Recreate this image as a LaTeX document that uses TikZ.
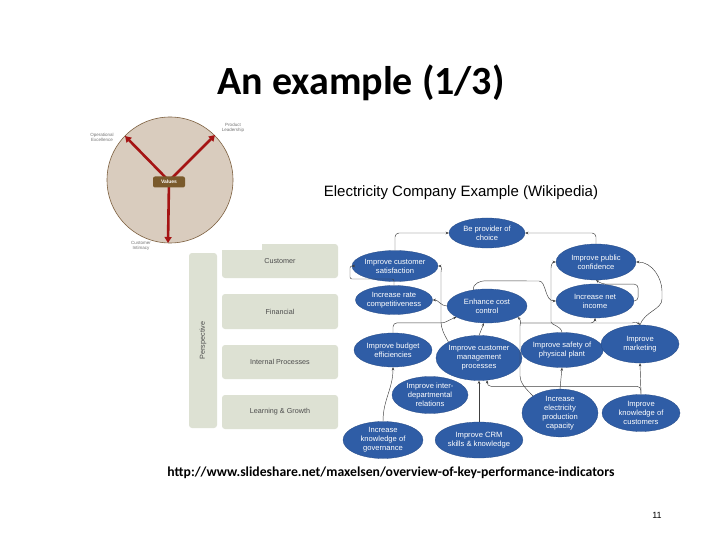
\documentclass[tikz,border=0pt]{standalone}
\usepackage{fontspec}
\setmainfont{Carlito}
\newfontfamily\arialf{Liberation Sans}
\usetikzlibrary{shapes.geometric,arrows.meta,calc}
\definecolor{mapblue}{RGB}{47,93,166}
\definecolor{sage}{RGB}{221,225,211}
\definecolor{tanfill}{RGB}{217,204,190}
\definecolor{brownb}{RGB}{125,96,64}
\definecolor{valbrown}{RGB}{122,90,44}
\definecolor{redarr}{RGB}{165,20,20}
\begin{document}
\begin{tikzpicture}[x=1pt,y=-1pt,
  goal/.style={ellipse, fill=mapblue, draw=mapblue!80!black, line width=0.3pt, inner sep=0pt, text=white, align=center, font=\arialf\fontsize{7.6}{9}\selectfont},
  conn/.style={draw=black!75, line width=0.45pt, -{Stealth[length=3.2pt,width=2.6pt]}, rounded corners=4pt},
  rowbox/.style={fill=sage, rounded corners=3pt, minimum width=116pt, minimum height=34pt, inner sep=0pt, text=black!70, font=\arialf\fontsize{7.2}{8}\selectfont},
  lbl/.style={text=black!55, align=center, font=\arialf\fontsize{4.5}{5}\selectfont, inner sep=0pt},
  redar/.style={draw=redarr, line width=2.6pt, -{Triangle[length=6pt,width=7pt]}},
]
\useasboundingbox (0,0) rectangle (720,540);
\fill[white] (0,0) rectangle (720,540);

% title
\node (title) at (361,83) {\fontsize{40}{48}\selectfont\bfseries An example (1/3)};

% perspective table
\node[rowbox, minimum width=28pt, minimum height=175pt] (persp) at (203,340.5) {};
\node[rotate=90, text=black!70, font=\arialf\fontsize{7.2}{8}\selectfont] (persptext) at (persp) {Perspective};
\node[rowbox] (rcust) at (280,261) {Customer};
\node[rowbox, minimum height=35pt] (rfin) at (280,311.5) {Financial};
\node[rowbox] (rint) at (280,362) {Internal Processes};
\node[rowbox] (rlearn) at (280,412) {Learning \& Growth};

% value wheel picture (white background overlaps table)
\fill[white] (78,98) rectangle (262,250);
\node[circle, fill=tanfill, draw=brownb, line width=0.6pt, minimum size=126pt, inner sep=0pt] (wheel) at (170,180) {};
\coordinate (hub) at (169,181);
\coordinate (oe) at (125,136);
\coordinate (pl) at (215,135);
\coordinate (ci) at (168,243);
\draw[redar] (hub) -- (oe);
\draw[redar] (hub) -- (pl);
\draw[redar] (hub) -- (ci);
\node[fill=valbrown, rounded corners=2pt, minimum width=32pt, minimum height=11pt, inner sep=0pt, text=white, font=\arialf\bfseries\fontsize{5}{6}\selectfont] (values) at (169,182) {Values};
\node[lbl] (oelbl) at (102,137) {Operational\\Excellence};
\node[lbl] (pllbl) at (233,128) {Product\\Leadership};
\node[lbl] (cilbl) at (141,246) {Customer\\Intimacy};

% strategy map
\node[font=\arialf\fontsize{15}{18}\selectfont] (maptitle) at (461,193) {Electricity Company Example (Wikipedia)};

\node[goal, minimum width=76pt, minimum height=30pt] (bpc) at (487,233) {Be provider of\\choice};
\node[goal, minimum width=86pt, minimum height=31pt] (ics) at (395,266) {Improve customer\\satisfaction};
\node[goal, minimum width=80pt, minimum height=36pt] (ipc) at (596,262) {Improve public\\confidence};
\node[goal, minimum width=76pt, minimum height=29pt] (irc) at (394,300) {Increase rate\\competitiveness};
\node[goal, minimum width=80pt, minimum height=34pt] (ecc) at (487,306) {Enhance cost\\control};
\node[goal, minimum width=78pt, minimum height=34pt] (ini) at (595,301) {Increase net\\income};
\node[goal, minimum width=78pt, minimum height=34pt] (ibe) at (393,350) {Improve budget\\efficiencies};
\node[goal, minimum width=80pt, minimum height=45pt] (icmp) at (479,358) {Improve customer\\management\\processes};
\node[goal, minimum width=82pt, minimum height=35pt] (ispp) at (562,350) {Improve safety of\\physical plant};
\node[goal, minimum width=78pt, minimum height=38pt] (imkt) at (640,344) {Improve\\marketing};
\node[goal, minimum width=76pt, minimum height=37pt] (iidr) at (430,395) {Improve inter-\\departmental\\relations};
\node[goal, minimum width=80pt, minimum height=37pt] (ikg) at (383,440) {Increase\\knowledge of\\governance};
\node[goal, minimum width=80pt, minimum height=36pt] (icrm) at (479,440) {Improve CRM\\skills \& knowledge};
\node[goal, minimum width=76pt, minimum height=41pt] (iepc) at (560,413) {Increase\\electricity\\production\\capacity};
\node[goal, minimum width=78pt, minimum height=37pt] (ikc) at (641,413) {Improve\\knowledge of\\customers};

% connectors
\draw[conn] (ics.north) |- (bpc.west);
\draw[conn] (ipc.north) |- (bpc.east);
\draw[conn, rounded corners=2pt] (irc.north) |- (350,279) |- (ics.west);
\draw[conn] (ecc.west) to[out=180,in=0] (irc.east);
\draw[conn] (icmp.north west) to[out=120,in=-90] (441,318) -- (441,276) to[out=90,in=0] (ics.east);
\draw[conn] (ibe.north) -- ++(0,-10) -- ++(45,0) to[out=0,in=200] (ecc.200);
\draw[conn] (icmp.north) -- (ecc.-100);
\draw[conn] (ecc.130) to[out=100,in=180] ++(15,-9) -- (535,281) to[out=0,in=180] (ini.west);
\draw[conn] (ini.east) -- ++(4,0) |- ($(ipc.south)+(6,4)$) -- (ipc.south);
\draw[conn] (ispp.north) to[out=100,in=-90] (551,318) -- (551,272) to[out=90,in=180] (ipc.west);
\draw[conn] (imkt.north) to[out=70,in=-90] (662,295) to[out=90,in=0] (ipc.east);
\coordinate (j2) at (520,323);
\draw[conn] (iepc.north west) to[out=135,in=-90] (520,372) -- (520,330) to[out=90,in=-40] (ecc.-20);
\draw[conn] (j2) -| (ini.south);
\draw[conn] (j2) -- (628,323) to[out=0,in=135] (imkt.north);
\draw[conn] (ikc.north) -- ++(0,-8) -| (icmp.-70);
\draw[conn] (ikg.north) to[out=90,in=-90] (ibe.south);
\draw[conn] (icrm.north) -- (icmp.south);
\draw[conn] (iepc.north) -- (ispp.south);
\draw[conn] (ikc.north) -- (imkt.south);

% footer
\node (url) at (391,473) {\resizebox{447pt}{!}{\bfseries http://www.slideshare.net/maxelsen/overview-of-key-performance-indicators}};
\node[font=\arialf\fontsize{9}{10}\selectfont] (pnum) at (657,515) {11};
\end{tikzpicture}
\end{document}
